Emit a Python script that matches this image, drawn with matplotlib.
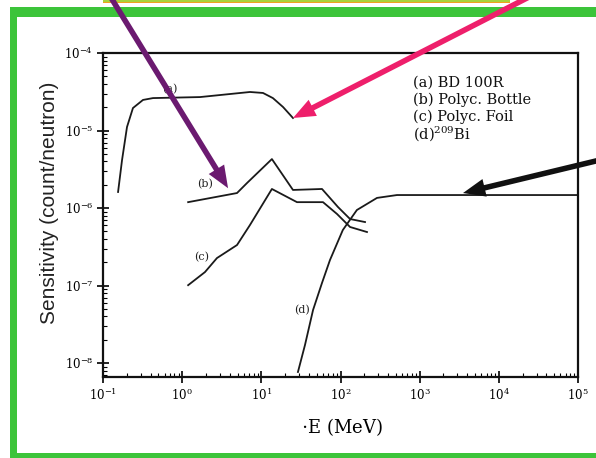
import matplotlib
matplotlib.use('Agg')
import matplotlib.pyplot as plt
from matplotlib.patches import Rectangle
from matplotlib.ticker import LogLocator, FixedLocator, FixedFormatter, NullFormatter

plt.rcParams['mathtext.fontset'] = 'dejavuserif'

# curve data (E in MeV, sensitivity in count/neutron)
a_E = [0.155, 0.174, 0.201, 0.239, 0.320, 0.428, 1.68, 7.19, 10.5, 14.0, 18.8, 25.1]
a_S = [1.61e-6, 4.16e-6, 1.11e-5, 1.95e-5, 2.48e-5, 2.62e-5, 2.70e-5, 3.14e-5, 3.05e-5, 2.62e-5, 2.01e-5, 1.45e-5]

b_E = [1.19, 4.93, 6.59, 13.6, 25.1, 58.4, 92.9, 132, 204]
b_S = [1.19e-6, 1.56e-6, 2.10e-6, 4.28e-6, 1.71e-6, 1.76e-6, 1.03e-6, 7.21e-7, 6.59e-7]

c_E = [1.19, 1.94, 2.75, 4.93, 7.19, 13.6, 28.2, 60.1, 90.4, 132, 216]
c_S = [1.01e-7, 1.49e-7, 2.26e-7, 3.33e-7, 6.04e-7, 1.76e-6, 1.19e-6, 1.19e-6, 8.37e-7, 5.69e-7, 4.90e-7]

d_E = [29.0, 35.6, 45.0, 58.4, 73.6, 107, 161, 289, 517, 1e5]
d_S = [7.66e-9, 1.71e-8, 4.83e-8, 1.08e-7, 2.13e-7, 5.20e-7, 9.42e-7, 1.35e-6, 1.47e-6, 1.47e-6]

curve_tags = ['(a)', '(b)', '(c)', '(d)']
tag_E = [0.70, 1.94, 1.78, 32.7]
tag_S = [3.43e-5, 2.04e-6, 2.33e-7, 4.83e-8]

legend_lines = ['(a) BD 100R', '(b) Polyc. Bottle', '(c) Polyc. Foil', '(d)$^{209}$Bi']

x_ticks = [1e-1, 1e0, 1e1, 1e2, 1e3, 1e4, 1e5]
x_labels = ['10$^{-1}$', '10$^{0}$', '10$^{1}$', '10$^{2}$', '10$^{3}$', '10$^{4}$', '10$^{5}$']
y_ticks = [1e-8, 1e-7, 1e-6, 1e-5, 1e-4]
y_labels = ['10$^{-8}$', '10$^{-7}$', '10$^{-6}$', '10$^{-5}$', '10$^{-4}$']

# arrows pointing at curve features
arrow_tips = [(3.8, 1.8e-6), (25.1, 1.45e-5), (3525, 1.56e-6)]
arrow_colors = ['#6B1A70', '#EE1F6B', '#111111']

W, H = 596, 458
fig = plt.figure(figsize=(W / 100, H / 100), dpi=100)
fig.patch.set_facecolor('white')

# green frame from the slide
green = '#3CC43A'
def px_rect(x0, y0, x1, y1, color):
    fig.add_artist(Rectangle((x0 / W, 1 - y1 / H), (x1 - x0) / W, (y1 - y0) / H,
                             transform=fig.transFigure, color=color, lw=0, zorder=0))

px_rect(103, 0, 510, 2, '#A8D23A')
px_rect(103, 2, 510, 3, '#F0A020')
px_rect(10, 7, 596, 17, green)
px_rect(10, 7, 17, 458, green)
px_rect(10, 453, 596, 458, green)

ax = fig.add_axes([103 / W, 1 - 377 / H, 475 / W, 324 / H])
ax.set_xscale('log')
ax.set_yscale('log')
ax.set_xlim(0.1, 1e5)
ax.set_ylim(6.6e-9, 1e-4)

for E, S in [(a_E, a_S), (b_E, b_S), (c_E, c_S), (d_E, d_S)]:
    ax.plot(E, S, color='#1a1a1a', lw=1.3)

for t, e, s in zip(curve_tags, tag_E, tag_S):
    ax.text(e, s, t, family='DejaVu Serif', fontsize=8, ha='center', va='center', color='#222')

for i, line in enumerate(legend_lines):
    ax.text(0.653, 0.907 - i * 0.0515, line, transform=ax.transAxes, family='DejaVu Serif',
            fontsize=10.5, va='center', ha='left', color='#111')

ax.xaxis.set_major_locator(FixedLocator(x_ticks))
ax.xaxis.set_major_formatter(FixedFormatter(x_labels))
ax.yaxis.set_major_locator(FixedLocator(y_ticks))
ax.yaxis.set_major_formatter(FixedFormatter(y_labels))
ax.xaxis.set_minor_locator(LogLocator(base=10, subs=range(2, 10), numticks=20))
ax.yaxis.set_minor_locator(LogLocator(base=10, subs=range(2, 10), numticks=20))
ax.xaxis.set_minor_formatter(NullFormatter())
ax.yaxis.set_minor_formatter(NullFormatter())
ax.tick_params(which='major', direction='inout', length=8, width=1.2, labelsize=8.5, pad=3,
               labelfontfamily='DejaVu Serif')
ax.tick_params(which='minor', direction='in', length=3, width=0.8)
for sp in ax.spines.values():
    sp.set_linewidth(1.6)
    sp.set_color('#111')

fig.text(342 / W, 1 - 427 / H, '$\\cdot$E (MeV)', family='DejaVu Serif', fontsize=13,
         ha='center', va='center')
fig.text(50 / W, 1 - 203 / H, 'Sensitivity (count/neutron)', family='Liberation Sans',
         fontsize=15, rotation=90, ha='center', va='center', color='#222')

arrow_tails = [(110 / W, 1 + 4 / H), (529 / W, 1 + 3 / H), (1 + 4 / W, 1 - 160 / H)]
for tip, tail, col in zip(arrow_tips, arrow_tails, arrow_colors):
    ax.annotate('', xy=tip, xycoords='data', xytext=tail, textcoords='figure fraction',
                annotation_clip=False,
                arrowprops=dict(arrowstyle='simple,head_length=16,head_width=13,tail_width=4',
                                mutation_scale=1, color=col, lw=0, shrinkA=0, shrinkB=0),
                zorder=10)

plt.savefig('out.png', dpi=100)
